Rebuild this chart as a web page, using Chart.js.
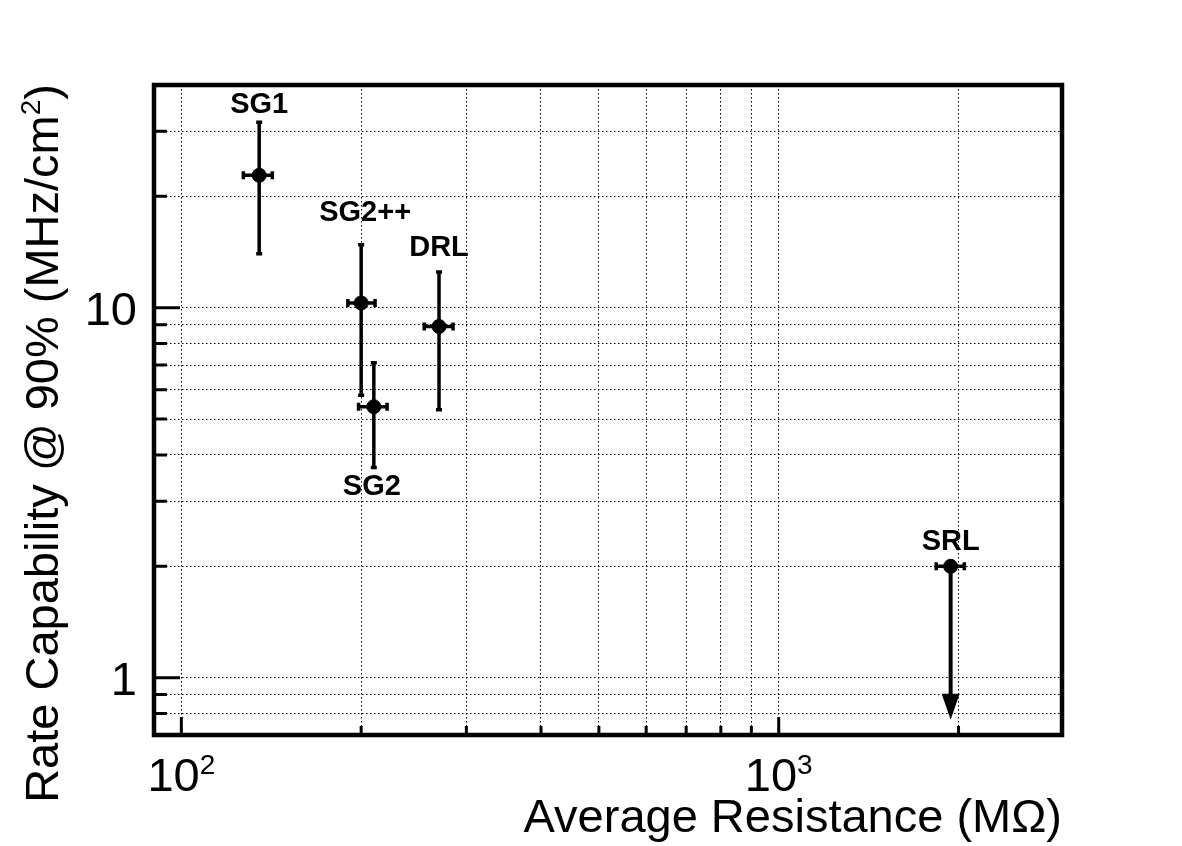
<!DOCTYPE html>
<html>
<head>
<meta charset="utf-8">
<script src="https://cdn.jsdelivr.net/npm/chart.js@4"></script>
<style>
  html, body { margin: 0; padding: 0; background: #fff; }
  #wrap { width: 1182px; height: 846px; }
</style>
</head>
<body>
<div id="wrap"><canvas id="rateChart" width="1182" height="846"></canvas></div>
<script>
// data (log-log)
var detectors = ['SG1', 'SG2++', 'SG2', 'DRL', 'SRL'];
var resistance = [135, 200, 210, 270, 1940];
var resistanceLow = [127, 190, 198, 255, 1835];
var resistanceHigh = [142, 211, 221, 285, 2045];
var rate = [22.8, 10.3, 5.4, 8.9, 2.0];
var rateLow = [14.0, 5.8, 3.7, 5.3, 0.77];
var rateHigh = [31.7, 14.8, 7.1, 12.5, 2.0];
var upperLimit = [false, false, false, false, true];

var xGridValues = [100, 200, 300, 400, 500, 600, 700, 800, 900, 1000, 2000];
var yGridValues = [0.8, 0.9, 1, 2, 3, 4, 5, 6, 7, 8, 9, 10, 20, 30];
var xMajor = [100, 1000];
var yMajor = [1, 10];

var FONT = '"Liberation Sans", Arial, Helvetica, sans-serif';

// label goes under the point for SG2, above for the others
var labelBelow = [false, false, true, false, false];

var points = resistance.map(function(x, i) { return { x: x, y: rate[i] }; });

var rootStyle = {
  id: 'rootStyle',
  afterDatasetsDraw: function(chart) {
    var ctx = chart.ctx;
    var xs = chart.scales.x, ys = chart.scales.y;
    var a = chart.chartArea;
    ctx.save();
    ctx.strokeStyle = '#000';
    ctx.fillStyle = '#000';
    ctx.lineWidth = 3.5;
    ctx.lineCap = 'butt';

    // error bars
    for (var i = 0; i < detectors.length; i++) {
      var px = xs.getPixelForValue(resistance[i]);
      var py = ys.getPixelForValue(rate[i]);
      var xl = xs.getPixelForValue(resistanceLow[i]);
      var xh = xs.getPixelForValue(resistanceHigh[i]);
      ctx.lineWidth = 3.5;
      ctx.beginPath();
      ctx.moveTo(xl, py); ctx.lineTo(xh, py);
      ctx.moveTo(xl, py - 4); ctx.lineTo(xl, py + 4);
      ctx.moveTo(xh, py - 4); ctx.lineTo(xh, py + 4);
      ctx.stroke();
      if (upperLimit[i]) {
        var tip = ys.getPixelForValue(rateLow[i]);
        ctx.lineWidth = 4;
        ctx.beginPath();
        ctx.moveTo(px, py); ctx.lineTo(px, tip - 20);
        ctx.stroke();
        ctx.beginPath();
        ctx.moveTo(px - 9, tip - 26);
        ctx.lineTo(px + 9, tip - 26);
        ctx.lineTo(px, tip);
        ctx.closePath();
        ctx.fill();
      } else {
        var yl = ys.getPixelForValue(rateLow[i]);
        var yh = ys.getPixelForValue(rateHigh[i]);
        ctx.beginPath();
        ctx.moveTo(px, yl); ctx.lineTo(px, yh);
        ctx.moveTo(px - 3, yl); ctx.lineTo(px + 3, yl);
        ctx.moveTo(px - 3, yh); ctx.lineTo(px + 3, yh);
        ctx.stroke();
      }
    }

    // point labels
    ctx.font = 'bold 29px ' + FONT;
    ctx.textAlign = 'center';
    ctx.textBaseline = 'alphabetic';
    var gaps = [9, 24, 0, 16, 16];
    for (var j = 0; j < detectors.length; j++) {
      var lx = xs.getPixelForValue(resistance[j]);
      if (labelBelow[j]) {
        ctx.fillText(detectors[j], lx - 2, ys.getPixelForValue(rateLow[j]) + 28);
      } else {
        var top = ys.getPixelForValue(rateHigh[j]);
        ctx.fillText(detectors[j], lx + (j === 1 ? 4 : 0), top - gaps[j]);
      }
    }

    // inner ticks
    ctx.lineWidth = 3;
    ctx.beginPath();
    xGridValues.forEach(function(v) {
      var p = xs.getPixelForValue(v);
      var len = xMajor.indexOf(v) >= 0 ? 18 : 9;
      ctx.moveTo(p, a.bottom); ctx.lineTo(p, a.bottom - len);
    });
    yGridValues.forEach(function(v) {
      var p = ys.getPixelForValue(v);
      var len = yMajor.indexOf(v) >= 0 ? 26 : 13;
      ctx.moveTo(a.left, p); ctx.lineTo(a.left + len, p);
    });
    ctx.stroke();

    // frame
    ctx.lineWidth = 4.5;
    ctx.strokeRect(a.left, a.top, a.right - a.left, a.bottom - a.top);

    // tick labels
    ctx.font = '47px ' + FONT;
    ctx.textAlign = 'right';
    yMajor.forEach(function(v) {
      ctx.fillText(String(v), 137, ys.getPixelForValue(v) + 17);
    });
    xMajor.forEach(function(v) {
      var p = xs.getPixelForValue(v);
      var exp = String(Math.round(Math.log10(v)));
      ctx.font = '47px ' + FONT;
      var w1 = ctx.measureText('10').width;
      ctx.font = '28px ' + FONT;
      var w2 = ctx.measureText(exp).width;
      var x0 = p - (w1 + w2) / 2;
      ctx.textAlign = 'left';
      ctx.font = '47px ' + FONT;
      ctx.fillText('10', x0, 791);
      ctx.font = '28px ' + FONT;
      ctx.fillText(exp, x0 + w1, 774);
    });

    // axis titles
    ctx.font = '47px ' + FONT;
    ctx.textAlign = 'right';
    ctx.fillText('Average Resistance (M\u03A9)', 1062, 832);

    ctx.translate(58, 84);
    ctx.rotate(-Math.PI / 2);
    ctx.textAlign = 'right';
    ctx.font = '47px ' + FONT;
    var close = ')';
    var wClose = ctx.measureText(close).width;
    ctx.fillText(close, 0, 0);
    ctx.font = '28px ' + FONT;
    var wSup = ctx.measureText('2').width;
    ctx.fillText('2', -wClose, -18);
    ctx.font = '47px ' + FONT;
    ctx.fillText('Rate Capability @ 90% (MHz/cm', -wClose - wSup, 0);
    ctx.restore();
  }
};

new Chart(document.getElementById('rateChart').getContext('2d'), {
  type: 'scatter',
  data: {
    datasets: [{
      label: 'Rate capability',
      data: points,
      backgroundColor: '#000',
      borderColor: '#000',
      pointRadius: 7,
      pointHoverRadius: 7
    }]
  },
  options: {
    responsive: false,
    animation: false,
    events: [],
    layout: { padding: { top: 85, right: 120, left: 0, bottom: 0 } },
    plugins: {
      legend: { display: false },
      tooltip: { enabled: false }
    },
    scales: {
      x: {
        type: 'logarithmic',
        min: 90,
        max: 2980,
        afterBuildTicks: function(s) { s.ticks = xGridValues.map(function(v) { return { value: v }; }); },
        afterFit: function(s) { s.height = 111; },
        ticks: { display: false },
        grid: { color: '#000', lineWidth: 1, drawTicks: false },
        border: { display: false, dash: [1.5, 2.5] }
      },
      y: {
        type: 'logarithmic',
        min: 0.7,
        max: 40,
        afterBuildTicks: function(s) { s.ticks = yGridValues.map(function(v) { return { value: v }; }); },
        afterFit: function(s) { s.width = 154; },
        ticks: { display: false },
        grid: { color: '#000', lineWidth: 1, drawTicks: false },
        border: { display: false, dash: [1.5, 2.5] }
      }
    }
  },
  plugins: [rootStyle]
});
</script>
</body>
</html>
